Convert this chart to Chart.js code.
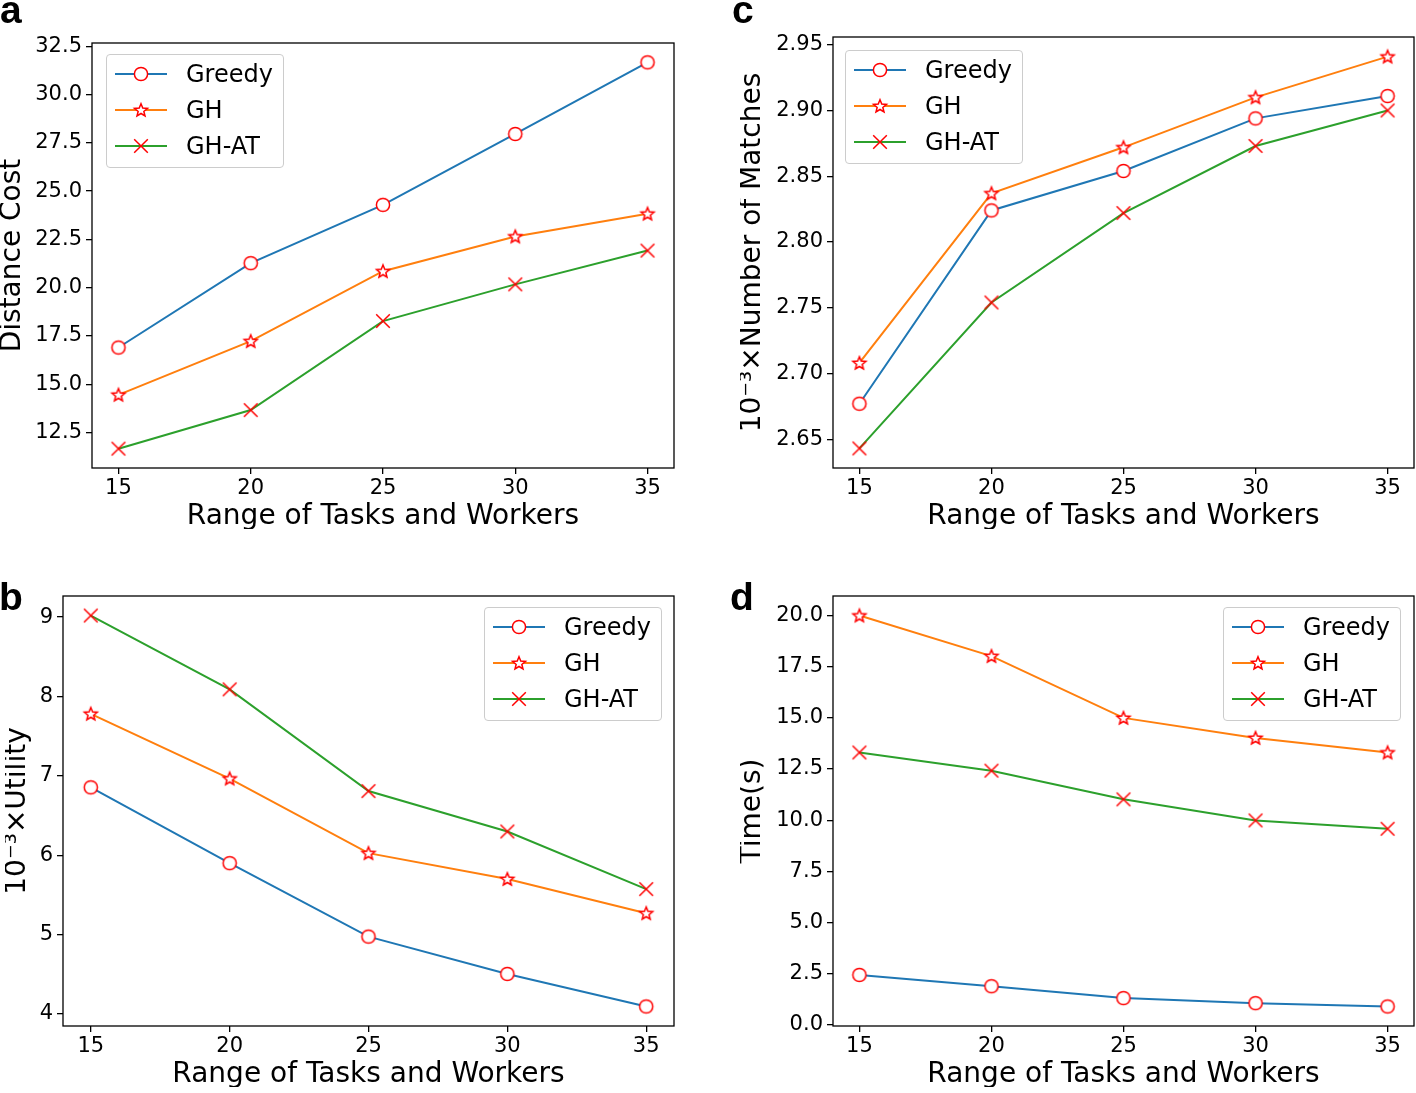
<!DOCTYPE html>
<html>
<head>
<meta charset="utf-8">
<script src="https://cdn.jsdelivr.net/npm/chart.js@4.4.0/dist/chart.umd.min.js"></script>
<style>
  body { margin: 0; background: #fff; }
  #page { position: relative; width: 1416px; height: 1093px; overflow: hidden; font-family: 'DejaVu Sans', sans-serif; }
  canvas.panel { position: absolute; }
  .tag { position: absolute; font: bold 39px 'Liberation Sans', Arial, sans-serif; line-height: 1; color: #000; }
  .legend { position: absolute; width: 178px; height: 114px; box-sizing: border-box; border: 1px solid #cccccc;
            border-radius: 4px; background: rgba(255,255,255,0.8); padding-top: 1px; }
  .legend .row { height: 36px; display: flex; align-items: center; }
  .legend canvas { margin-left: 8px; margin-right: 19px; width: 52px; height: 20px; }
  .legend span { font: 24px 'DejaVu Sans', sans-serif; line-height: 1; color: #000; }
</style>
</head>
<body>
<div id="page"></div>
<script>
// data
const xValues = [15, 20, 25, 30, 35];
const xTicks = [15, 20, 25, 30, 35];
const seriesNames = ['Greedy', 'GH', 'GH-AT'];

// (a) distance cost
const distGreedy = [16.90, 21.27, 24.29, 27.96, 31.67];
const distGH = [14.45, 17.23, 20.85, 22.65, 23.83];
const distGHAT = [11.66, 13.66, 18.27, 20.17, 21.92];
const distTicks = [12.5, 15, 17.5, 20, 22.5, 25, 27.5, 30, 32.5];

// (c) 10^-3 x number of matches
const matchGreedy = [2.677, 2.824, 2.854, 2.894, 2.911];
const matchGH = [2.708, 2.837, 2.872, 2.910, 2.941];
const matchGHAT = [2.643, 2.754, 2.822, 2.873, 2.900];
const matchTicks = [2.65, 2.70, 2.75, 2.80, 2.85, 2.90, 2.95];

// (b) 10^-3 x utility
const utilGreedy = [6.855, 5.90, 4.974, 4.504, 4.094];
const utilGH = [7.782, 6.966, 6.026, 5.70, 5.269];
const utilGHAT = [9.02, 8.09, 6.808, 6.299, 5.573];
const utilTicks = [4, 5, 6, 7, 8, 9];

// (d) running time
const timeGreedy = [2.44, 1.89, 1.31, 1.06, 0.90];
const timeGH = [20.0, 18.02, 15.0, 14.02, 13.31];
const timeGHAT = [13.31, 12.42, 11.02, 9.99, 9.58];
const timeTicks = [0, 2.5, 5, 7.5, 10, 12.5, 15, 17.5, 20];

const lineColors = ['#1f77b4', '#ff7f0e', '#2ca02c'];
const markerKinds = ['circle', 'star', 'cross'];
const FONT = "'DejaVu Sans', sans-serif";

function makeMarker(kind) {
  const c = document.createElement('canvas');
  c.width = 20; c.height = 20;
  const g = c.getContext('2d');
  g.strokeStyle = '#ff0000';
  g.fillStyle = '#ffffff';
  g.lineWidth = 1.5;
  g.beginPath();
  if (kind === 'circle') {
    g.arc(10, 10, 6.6, 0, Math.PI * 2);
    g.fill();
  } else if (kind === 'star') {
    for (let i = 0; i < 10; i++) {
      const r = i % 2 === 0 ? 6.8 : 3.0;
      const a = -Math.PI / 2 + i * Math.PI / 5;
      const px = 10 + r * Math.cos(a), py = 10.5 + r * Math.sin(a);
      if (i === 0) g.moveTo(px, py); else g.lineTo(px, py);
    }
    g.closePath();
    g.fill();
  } else {
    g.moveTo(3.2, 3.2); g.lineTo(16.8, 16.8);
    g.moveTo(16.8, 3.2); g.lineTo(3.2, 16.8);
  }
  g.stroke();
  return c;
}

const markers = markerKinds.map(makeMarker);

// box round the plot area, like the matplotlib spines
const framePlugin = {
  id: 'frame',
  afterDraw(chart) {
    const { ctx, chartArea: a } = chart;
    ctx.save();
    ctx.strokeStyle = '#000';
    ctx.lineWidth = 1.3;
    ctx.strokeRect(a.left, a.top, a.right - a.left, a.bottom - a.top);
    ctx.restore();
  }
};

const page = document.getElementById('page');

function addLegend(pos) {
  const box = document.createElement('div');
  box.className = 'legend';
  box.style.left = pos[0] + 'px';
  box.style.top = pos[1] + 'px';
  seriesNames.forEach((name, i) => {
    const row = document.createElement('div');
    row.className = 'row';
    const icon = document.createElement('canvas');
    icon.width = 52; icon.height = 20;
    const g = icon.getContext('2d');
    g.strokeStyle = lineColors[i];
    g.lineWidth = 2;
    g.beginPath(); g.moveTo(0, 10); g.lineTo(52, 10); g.stroke();
    g.drawImage(markers[i], 16, 0);
    const label = document.createElement('span');
    label.textContent = name;
    row.appendChild(icon);
    row.appendChild(label);
    box.appendChild(row);
  });
  page.appendChild(box);
}

function addTag(text, left, top) {
  const t = document.createElement('div');
  t.className = 'tag';
  t.textContent = text;
  t.style.left = left + 'px';
  t.style.top = top + 'px';
  page.appendChild(t);
}

function buildPanel(p) {
  const [cx, cy, cw, ch] = p.canvas;
  const [L, T, R, B] = p.area;
  const canvas = document.createElement('canvas');
  canvas.className = 'panel';
  canvas.width = cw; canvas.height = ch;
  canvas.style.left = cx + 'px';
  canvas.style.top = cy + 'px';
  page.appendChild(canvas);

  // matplotlib style autoscale: 5% margin on each side
  const all = p.series.flat();
  const lo = Math.min(...all), hi = Math.max(...all);
  const m = (hi - lo) * 0.05;

  const tickGrid = { display: true, drawOnChartArea: false, drawTicks: true, tickLength: 6, color: '#000', lineWidth: 1.3 };

  new Chart(canvas.getContext('2d'), {
    type: 'line',
    data: {
      datasets: p.series.map((s, i) => ({
        label: seriesNames[i],
        data: xValues.map((x, j) => ({ x: x, y: s[j] })),
        borderColor: lineColors[i],
        borderWidth: 2,
        pointStyle: markers[i],
        pointRadius: 7,
        tension: 0,
        fill: false,
        order: 2 - i
      }))
    },
    options: {
      responsive: false,
      animation: false,
      events: [],
      layout: { autoPadding: false, padding: { left: 0, top: T - cy, right: cx + cw - R, bottom: 0 } },
      plugins: { legend: { display: false }, tooltip: { enabled: false } },
      scales: {
        x: {
          type: 'linear',
          min: 14,
          max: 36,
          afterBuildTicks: ax => { ax.ticks = xTicks.map(v => ({ value: v })); },
          afterFit: ax => { ax.height = cy + ch - B; ax.paddingLeft = 0; ax.paddingRight = 0; },
          grid: tickGrid,
          border: { display: false },
          ticks: { color: '#000', font: { family: FONT, size: 21 }, padding: 2, maxRotation: 0, autoSkip: false },
          title: { display: true, text: 'Range of Tasks and Workers', color: '#000', padding: 0,
                   font: { family: FONT, size: 28, lineHeight: 0.9 } }
        },
        y: {
          min: lo - m,
          max: hi + m,
          afterBuildTicks: ax => { ax.ticks = p.yTicks.map(v => ({ value: v })); },
          afterFit: ax => { ax.width = L - cx; ax.paddingTop = 0; ax.paddingBottom = 0; },
          grid: tickGrid,
          border: { display: false },
          ticks: { color: '#000', font: { family: FONT, size: 21 }, padding: 4, autoSkip: false,
                   callback: v => Number(v).toFixed(p.decimals) },
          title: { display: true, text: p.yTitle, color: '#000', padding: 0,
                   font: { family: FONT, size: 28, lineHeight: 0.9 } }
        }
      }
    },
    plugins: [framePlugin]
  });

  addLegend(p.legend);
  addTag(p.tag[0], p.tag[1], p.tag[2]);
}

document.addEventListener('DOMContentLoaded', function () {
  buildPanel({
    canvas: [0, 0, 700, 529], area: [92, 43, 674, 468],
    series: [distGreedy, distGH, distGHAT], yTicks: distTicks, decimals: 1,
    yTitle: 'Distance Cost', legend: [106, 54], tag: ['a', 0, -10]
  });
  buildPanel({
    canvas: [740, 0, 676, 529], area: [833, 37, 1414, 468],
    series: [matchGreedy, matchGH, matchGHAT], yTicks: matchTicks, decimals: 2,
    yTitle: '10\u207B\u00B3\u00D7Number of Matches', legend: [845, 50], tag: ['c', 732, -10]
  });
  buildPanel({
    canvas: [5, 560, 695, 527], area: [63, 596, 674, 1026],
    series: [utilGreedy, utilGH, utilGHAT], yTicks: utilTicks, decimals: 0,
    yTitle: '10\u207B\u00B3\u00D7Utility', legend: [484, 607], tag: ['b', -1, 577]
  });
  buildPanel({
    canvas: [740, 560, 676, 527], area: [833, 596, 1414, 1026],
    series: [timeGreedy, timeGH, timeGHAT], yTicks: timeTicks, decimals: 1,
    yTitle: 'Time(s)', legend: [1223, 607], tag: ['d', 730, 577]
  });
});
</script>
</body>
</html>
